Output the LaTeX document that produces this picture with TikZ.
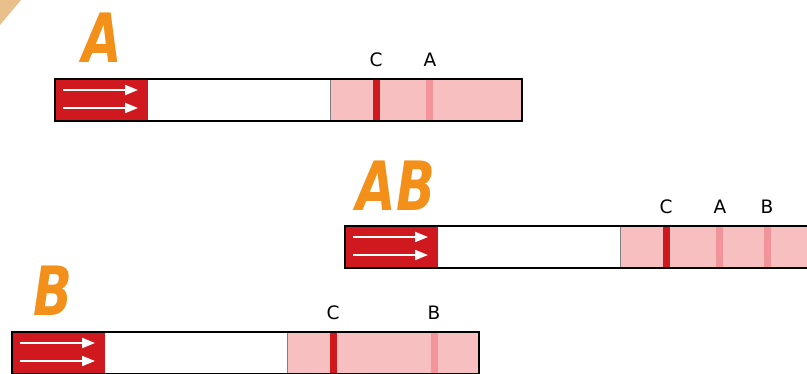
\documentclass[tikz,border=0pt]{standalone}
\usepackage{fontspec}
\setsansfont{DejaVu Sans}
\usetikzlibrary{arrows.meta}
\definecolor{stripred}{HTML}{D0191E}
\definecolor{bandpink}{HTML}{F8BFC1}
\definecolor{faintband}{HTML}{F3939A}
\definecolor{letterorange}{HTML}{F39019}
\definecolor{cornertan}{HTML}{E9C08C}
\tikzset{
  bandlabel/.style={font=\sffamily\fontsize{18.5}{21}\selectfont, text=black, inner sep=0pt},
  bigletter/.style={font=\sffamily\bfseries\itshape\fontsize{68}{72}\selectfont, text=letterorange, inner sep=0pt},
  flowarrow/.style={white, line width=2pt, -{Triangle[length=13pt,width=10pt]}}
}
% one test strip, top left corner at (0,0)
\newcommand{\teststrip}{%
  \fill[stripred] (0,0) rectangle (93,42);
  \fill[bandpink] (275,0) rectangle (467,42);
  \draw[gray, line width=0.8pt] (275,0) -- (275,42);
  \fill[stripred] (318,0) rectangle (325,42);
  \draw[flowarrow] (8,11) -- (83,11);
  \draw[flowarrow] (8,29) -- (83,29);
}
\begin{document}
\begin{tikzpicture}[x=1pt, y=-1pt]
  \useasboundingbox (0,0) rectangle (807,373);
  \fill[cornertan] (0,0) -- (21,0) -- (0,25) -- cycle;

  % strip A
  \begin{scope}[shift={(55,79)}]
    \teststrip
    \fill[faintband] (371,0) rectangle (378,42);
    \draw[black, line width=1.3pt] (0,0) rectangle (467,42);
    \node[bandlabel] (cA) at (321,-19) {C};
    \node[bandlabel] (aA) at (375,-19) {A};
  \end{scope}
  \node[bigletter] (titleA) at (102,38) {\scalebox{0.75}[1]{A}};

  % strip AB
  \begin{scope}[shift={(345,226)}]
    \teststrip
    \fill[faintband] (371,0) rectangle (378,42);
    \fill[faintband] (419,0) rectangle (426,42);
    \draw[black, line width=1.3pt] (0,0) rectangle (467,42);
    \node[bandlabel] (cAB) at (321,-19) {C};
    \node[bandlabel] (aAB) at (375,-19) {A};
    \node[bandlabel] (bAB) at (422,-19) {B};
  \end{scope}
  \node[bigletter] (titleAB) at (396,186) {\scalebox{0.75}[1]{AB}};

  % strip B
  \begin{scope}[shift={(12,332)}]
    \teststrip
    \fill[faintband] (419,0) rectangle (426,42);
    \draw[black, line width=1.3pt] (0,0) rectangle (467,42);
    \node[bandlabel] (cB) at (321,-19) {C};
    \node[bandlabel] (bB) at (422,-19) {B};
  \end{scope}
  \node[bigletter] (titleB) at (53,291) {\scalebox{0.75}[1]{B}};
\end{tikzpicture}
\end{document}
